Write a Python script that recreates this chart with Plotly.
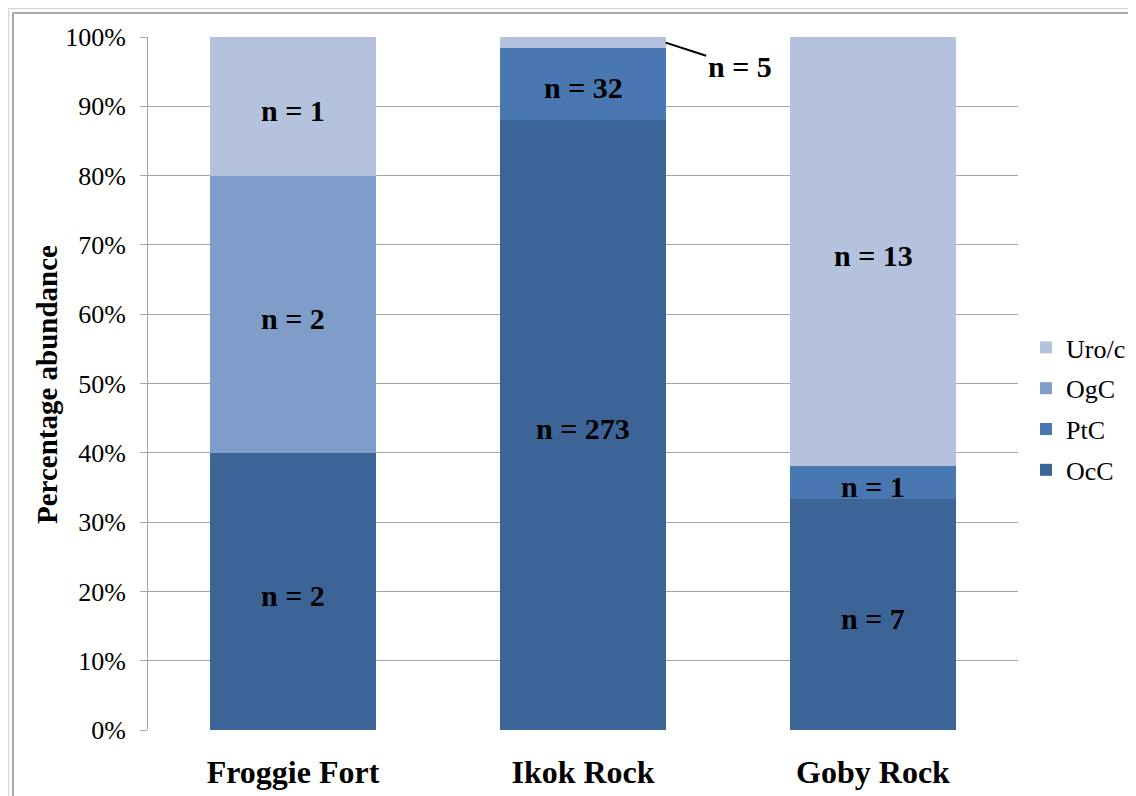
import plotly.graph_objects as go

W, H = 1136, 796
OFF = 8  # page body margin

sites = ["Froggie Fort", "Ikok Rock", "Goby Rock"]
series_names = ["OcC", "PtC", "OgC", "Uro/c"]
occ = [2, 273, 7]
ptc = [0, 32, 1]
ogc = [2, 0, 0]
uroc = [1, 5, 13]
colors = ["#3C6497", "#4877B1", "#7F9DC9", "#B4C2DD"]
y_ticks = [0, 10, 20, 30, 40, 50, 60, 70, 80, 90, 100]

series = [occ, ptc, ogc, uroc]

# plot area in picture pixels
PL, PR, PT, PB = 148, 1018, 37, 730

def px(x):
    return (x - OFF) / W

def py(y):
    return 1 - (y - OFF) / H

fig = go.Figure()
for k, (name, vals, col) in enumerate(zip(series_names, series, colors)):
    fig.add_trace(go.Bar(
        x=sites, y=vals, name=name, marker=dict(color=col, line=dict(width=0)),
        width=0.57, legendgroup=name, legendrank=len(series) - k, hoverinfo="skip"
    ))

totals = [sum(s[i] for s in series) for i in range(len(sites))]
annotations = []
for i, site in enumerate(sites):
    cum = 0.0
    for k, vals in enumerate(series):
        v = vals[i]
        if v == 0:
            continue
        pct = 100.0 * v / totals[i]
        mid = cum + pct / 2
        if pct < 3:
            annotations.append(dict(
                x=i + 0.285, y=mid, xref="x", yref="y",
                text="<b>n = %d</b>" % v, showarrow=True, arrowhead=0,
                arrowwidth=2, arrowcolor="black", ax=74, ay=24,
                font=dict(family="Liberation Serif", size=30, color="black"),
            ))
        else:
            annotations.append(dict(
                x=site, y=mid, xref="x", yref="y", text="<b>n = %d</b>" % v,
                showarrow=False, yshift=-4,
                font=dict(family="Liberation Serif", size=30, color="black"),
            ))
        cum += pct

annotations.append(dict(
    x=px(47), y=py(385), xref="paper", yref="paper", text="<b>Percentage abundance</b>",
    textangle=-90, showarrow=False, xanchor="center", yanchor="middle",
    font=dict(family="Liberation Serif", size=29, color="black"),
))

shapes = [
    dict(type="rect", xref="paper", yref="paper", x0=px(8.5), y0=py(8.5), x1=px(1160), y1=py(820),
         line=dict(color="#D4D4D4", width=1)),
    dict(type="rect", xref="paper", yref="paper", x0=px(13), y0=py(13), x1=px(1160), y1=py(820),
         line=dict(color="#ABABAB", width=2)),
]

fig.update_layout(
    width=W, height=H,
    margin=dict(l=0, r=0, t=0, b=0),
    paper_bgcolor="white", plot_bgcolor="white",
    barmode="stack", barnorm="percent",
    font=dict(family="Liberation Serif", color="black"),
    xaxis=dict(
        domain=[px(PL), px(PR)], automargin=False, showgrid=False, zeroline=False,
        showline=False, ticks="",
        tickvals=sites, ticktext=["<b>%s</b>" % s for s in sites],
        tickfont=dict(size=32, family="Liberation Serif", color="black"),
        ticklabelstandoff=20,
    ),
    yaxis=dict(
        domain=[py(PB), py(PT)], automargin=False, range=[0, 100], tickvals=y_ticks,
        ticktext=["%d%%" % t for t in y_ticks],
        showgrid=True, gridcolor="#A6A6A6", gridwidth=1, zeroline=False,
        showline=True, linecolor="#A6A6A6", linewidth=1,
        ticks="outside", ticklen=7, tickcolor="#A6A6A6",
        tickfont=dict(size=26, family="Liberation Serif", color="black"),
        ticklabelstandoff=9,
    ),
    legend=dict(
        x=px(1026), y=py(324), xanchor="left", yanchor="top",
        traceorder="grouped", tracegroupgap=4, itemwidth=30,
        font=dict(size=26, family="Liberation Serif", color="black"),
        bgcolor="rgba(0,0,0,0)",
    ),
    annotations=annotations,
    shapes=shapes,
)

fig.write_html("out.html")
